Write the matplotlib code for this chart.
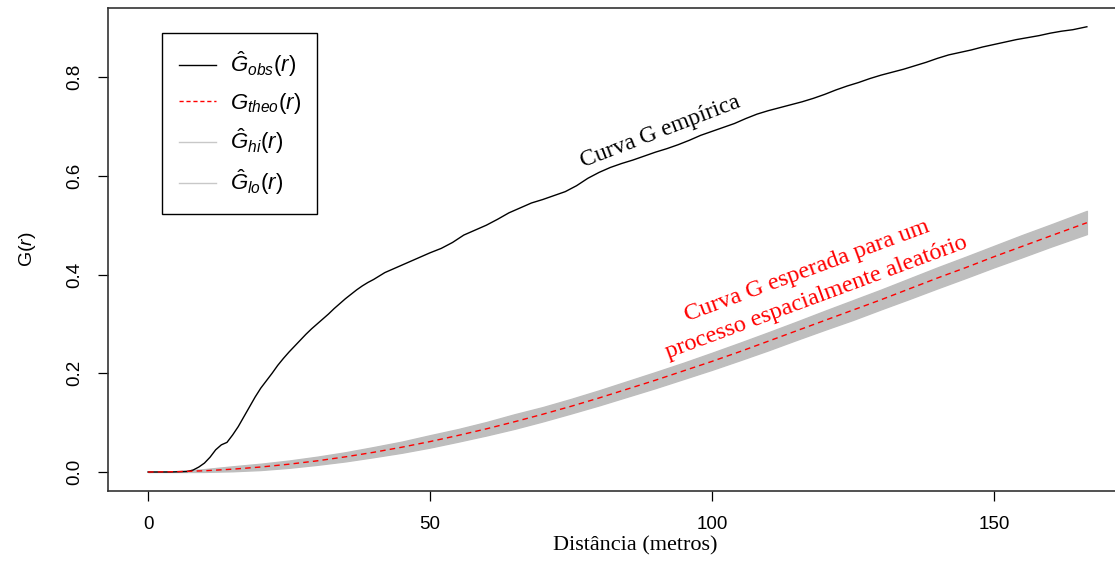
import numpy as np
import matplotlib
matplotlib.use('Agg')
import matplotlib.pyplot as plt
from matplotlib.lines import Line2D

plt.rcParams['mathtext.fontset'] = 'custom'
plt.rcParams['mathtext.rm'] = 'Liberation Sans'
plt.rcParams['mathtext.it'] = 'Liberation Sans:italic'
plt.rcParams['font.family'] = 'Liberation Sans'

# empirical G curve
r_obs = [0, 4, 7, 8, 9, 10, 11, 12, 13, 14, 15, 16, 17, 18, 19, 20, 21, 22, 23, 24, 25,
         26, 27, 28, 29, 30, 31, 32, 33, 34, 35, 36, 37, 38, 39, 40, 41, 42, 43, 44, 45,
         46, 47, 48, 49, 50, 52, 54, 56, 58, 60, 62, 64, 66, 68, 70, 72, 74, 76, 78, 80,
         82, 84, 86, 88, 90, 92, 94, 96, 98, 100, 102, 104, 106, 108, 110, 112, 114, 116,
         118, 120, 122, 124, 126, 128, 130, 132, 134, 136, 138, 140, 142, 144, 146, 148,
         150, 152, 154, 156, 158, 160, 162, 164, 166.5]
g_obs = [0, 0, 0.001, 0.004, 0.01, 0.018, 0.03, 0.045, 0.055, 0.06, 0.075, 0.092, 0.112,
         0.132, 0.152, 0.17, 0.185, 0.2, 0.216, 0.23, 0.243, 0.255, 0.267, 0.279, 0.29,
         0.3, 0.31, 0.32, 0.331, 0.341, 0.351, 0.36, 0.369, 0.377, 0.384, 0.39, 0.397,
         0.404, 0.409, 0.414, 0.419, 0.424, 0.429, 0.434, 0.439, 0.444, 0.453, 0.465,
         0.48, 0.49, 0.5, 0.512, 0.525, 0.535, 0.545, 0.552, 0.56, 0.568, 0.58, 0.595,
         0.607, 0.617, 0.625, 0.632, 0.64, 0.648, 0.655, 0.663, 0.672, 0.682, 0.69,
         0.698, 0.706, 0.716, 0.725, 0.732, 0.738, 0.744, 0.75, 0.757, 0.765, 0.774,
         0.782, 0.789, 0.797, 0.804, 0.81, 0.816, 0.823, 0.83, 0.838, 0.845, 0.85,
         0.855, 0.861, 0.866, 0.871, 0.876, 0.88, 0.884, 0.889, 0.893, 0.896, 0.902]

# theoretical curve and simulation envelope
r_th = [0, 5, 10, 15, 20, 25, 30, 35, 40, 45, 50, 55, 60, 65, 70, 75, 80, 85, 90, 95,
        100, 105, 110, 115, 120, 125, 130, 135, 140, 145, 150, 155, 160, 166.5]
g_th = [0, 0.0006, 0.0025, 0.0057, 0.0101, 0.0158, 0.0226, 0.0307, 0.0399, 0.0502,
        0.0616, 0.0741, 0.0874, 0.1018, 0.117, 0.133, 0.150, 0.168, 0.186, 0.205,
        0.224, 0.244, 0.265, 0.286, 0.307, 0.328, 0.349, 0.371, 0.393, 0.414, 0.436,
        0.457, 0.478, 0.505]
g_hi = [0, 0.0018, 0.0058, 0.0115, 0.0168, 0.0232, 0.031, 0.040, 0.0505, 0.0615,
        0.0745, 0.087, 0.1012, 0.117, 0.1315, 0.148, 0.1655, 0.184, 0.2025, 0.2215,
        0.2415, 0.262, 0.283, 0.3045, 0.3265, 0.348, 0.3695, 0.392, 0.4145, 0.436,
        0.458, 0.480, 0.501, 0.529]
g_lo = [0, 0, 0.0002, 0.0015, 0.004, 0.0085, 0.0145, 0.0215, 0.030, 0.039, 0.0495,
        0.0615, 0.074, 0.0875, 0.1025, 0.1185, 0.135, 0.1525, 0.170, 0.1885, 0.207,
        0.2265, 0.2465, 0.2675, 0.288, 0.308, 0.3295, 0.3505, 0.372, 0.393, 0.4145,
        0.435, 0.456, 0.482]

xticks = [0, 50, 100, 150]
yticks = [0.0, 0.2, 0.4, 0.6, 0.8]

W, H = 1115, 561
fig = plt.figure(figsize=(W/100, H/100), dpi=100)
ax = fig.add_axes([108/W, 70/H, 1055/W, 483/H])

ax.fill_between(r_th, g_lo, g_hi, color='#BEBEBE', lw=1.0, edgecolor='#BEBEBE')
ax.plot(r_obs, g_obs, '-', color='black', lw=1.0)
ax.plot(r_th, g_th, '--', color='red', lw=1.0, dashes=(4, 3))

ax.set_xlim(-7.1, 180)
ax.set_ylim(-0.0385, 0.94)
ax.set_xticks(xticks)
ax.set_xticklabels([str(t) for t in xticks])
ax.set_yticks(yticks)
ax.set_yticklabels(['%.1f' % t for t in yticks], rotation=90, va='center')
ax.tick_params(direction='out', length=7, width=0.9, labelsize=13.5, pad=11,
               colors='black')
for s in ax.spines.values():
    s.set_color('#333333')
    s.set_linewidth(1.2)

ax.set_xlabel('Distância (metros)', family='Liberation Serif', fontsize=16, labelpad=2)
ax.set_ylabel(r'G$(r)$', fontsize=14, labelpad=20)

handles = [Line2D([], [], color='black', lw=1.0),
           Line2D([], [], color='red', lw=1.0, ls='--', dashes=(3, 2)),
           Line2D([], [], color='#C8C8C8', lw=1.0),
           Line2D([], [], color='#C8C8C8', lw=1.0)]
labels = [r'$\hat{G}_{obs}(r)$', r'$G_{theo}(r)$', r'$\hat{G}_{hi}(r)$', r'$\hat{G}_{lo}(r)$']
leg = ax.legend(handles, labels, loc='upper left', bbox_to_anchor=(54/1055, 1-25/483),
                fontsize=16, frameon=True, fancybox=False, edgecolor='black',
                framealpha=1, handlelength=1.7, handletextpad=0.6, labelspacing=0.5,
                borderpad=0.75, borderaxespad=0)
leg.get_frame().set_linewidth(1.0)

fig.text(660/W, 1-132/H, 'Curva G empírica', fontsize=17,
         family='Liberation Serif', rotation=21, ha='center', va='center',
         color='black', rotation_mode='anchor')
fig.text(812/W, 1-284/H, 'Curva G esperada para um\nprocesso espacialmente aleatório',
         fontsize=17.5, family='Liberation Serif', rotation=20.3,
         ha='center', va='center', color='red', linespacing=1.45,
         rotation_mode='anchor', multialignment='center')

fig.savefig('out.png', dpi=100)
